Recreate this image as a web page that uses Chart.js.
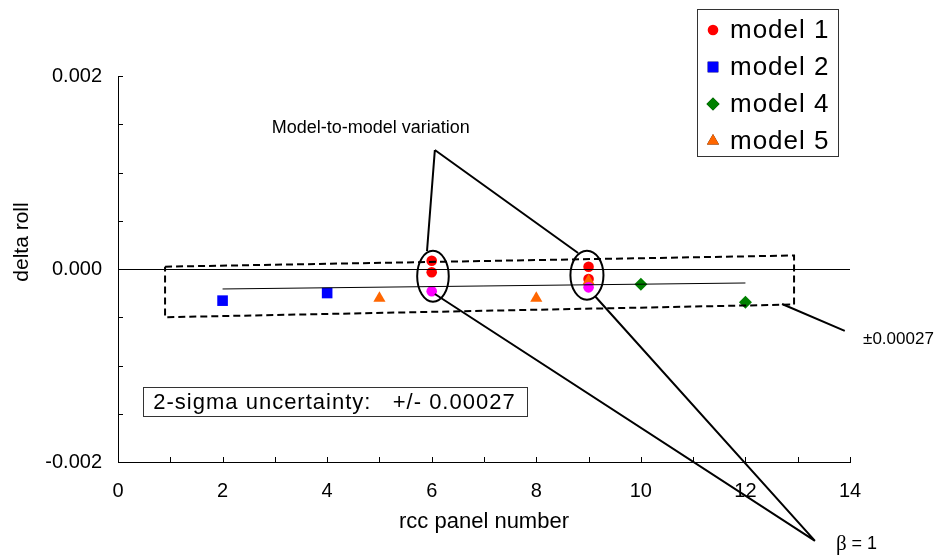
<!DOCTYPE html>
<html>
<head>
<meta charset="utf-8">
<script src="https://cdn.jsdelivr.net/npm/chart.js@4.4.1/dist/chart.umd.min.js"></script>
<style>
  body { margin: 0; background: #fff; }
  canvas { display: block; }
</style>
</head>
<body>
<canvas id="rollChart" width="936" height="556"></canvas>
<script>
// values
const model1X = [6, 6, 9, 9];
const model1Y = [0.000086, -0.000034, 0.000024, -0.000104];
const model2X = [2, 4];
const model2Y = [-0.000328, -0.000249];
const model3X = [6, 9];
const model3Y = [-0.000231, -0.00019];
const model4X = [10, 12];
const model4Y = [-0.000159, -0.000345];
const model5X = [5, 8, 9];
const model5Y = [-0.000304, -0.000304, -0.000124];
const trendX = [2, 12];
const trendY = [-0.000207, -0.000145];
const bandX = [0.9, 12.93, 12.93, 0.9, 0.9];
const bandY = [0.000024, 0.00014, -0.000368, -0.0005, 0.000024];
const yLabelTicks = [-0.002, 0, 0.002];
const xLabelTicks = [0, 2, 4, 6, 8, 10, 12, 14];

const FONT = '"Liberation Sans", Arial, sans-serif';

function pts(xs, ys) {
  return xs.map((x, i) => ({x: x, y: ys[i]}));
}

// callouts, in data units
const callouts = [
  [[6.06, 0.001233], [5.91, 0.000187]],
  [[6.06, 0.001233], [8.80, 0.000166]],
  [[6.06, -0.000259], [13.33, -0.002818]],
  [[9.12, -0.00028], [13.33, -0.002818]],
  [[12.70, -0.000363], [13.90, -0.000642]]
];
const ellipses = [
  {x: 6.024, y: -0.0000746, rx: 0.302, ry: 0.000264},
  {x: 8.969, y: -0.0000643, rx: 0.316, ry: 0.000254}
];

const extras = {
  id: 'extras',
  afterDatasetsDraw(chart) {
    const ctx = chart.ctx;
    const py = v => chart.scales.y.getPixelForValue(v);
    const area = chart.chartArea;
    ctx.save();
    // zero line
    ctx.strokeStyle = '#000';
    ctx.lineWidth = 1;
    ctx.beginPath();
    ctx.moveTo(area.left, Math.round(py(0)) + 0.5);
    ctx.lineTo(area.right, Math.round(py(0)) + 0.5);
    ctx.stroke();
    ctx.restore();
  },
  afterDraw(chart) {
    const ctx = chart.ctx;
    const xs = chart.scales.x, ys = chart.scales.y;
    const px = v => xs.getPixelForValue(v);
    const py = v => ys.getPixelForValue(v);
    const area = chart.chartArea;
    ctx.save();

    // inner tick marks
    ctx.strokeStyle = '#000';
    ctx.lineWidth = 1;
    ctx.beginPath();
    xs.ticks.forEach(t => {
      const x = Math.round(px(t.value)) + 0.5;
      ctx.moveTo(x, area.bottom);
      ctx.lineTo(x, area.bottom - 5);
    });
    ys.ticks.forEach(t => {
      const y = Math.round(py(t.value)) + 0.5;
      ctx.moveTo(area.left, y);
      ctx.lineTo(area.left + 5, y);
    });
    ctx.stroke();

    // callout lines and ellipses
    ctx.lineWidth = 2;
    ctx.beginPath();
    callouts.forEach(c => {
      ctx.moveTo(px(c[0][0]), py(c[0][1]));
      ctx.lineTo(px(c[1][0]), py(c[1][1]));
    });
    ctx.stroke();
    ellipses.forEach(e => {
      const cx = px(e.x), cy = py(e.y);
      ctx.beginPath();
      ctx.ellipse(cx, cy, Math.abs(px(e.x + e.rx) - cx), Math.abs(py(e.y + e.ry) - cy), 0, 0, Math.PI * 2);
      ctx.stroke();
    });

    // text notes
    ctx.fillStyle = '#000';
    ctx.textBaseline = 'middle';
    ctx.textAlign = 'left';
    ctx.font = '18px ' + FONT;
    ctx.fillText('Model-to-model variation', px(2.94), py(0.001461));
    ctx.font = '17px ' + FONT;
    ctx.fillText('\u00b10.00027', px(14.25), py(-0.00073));
    ctx.font = '21px "Liberation Serif", "DejaVu Serif", serif';
    ctx.fillText('\u03b2', px(13.73), py(-0.00285));
    const bw = ctx.measureText('\u03b2').width;
    ctx.font = '18px ' + FONT;
    ctx.fillText(' = 1', px(13.73) + bw, py(-0.00285));

    // uncertainty box
    const bx1 = px(0.484), bx2 = px(7.83), by1 = py(-0.001226), by2 = py(-0.00153);
    ctx.lineWidth = 1;
    ctx.strokeStyle = '#333';
    ctx.strokeRect(Math.round(bx1) + 0.5, Math.round(by1) + 0.5, Math.round(bx2 - bx1), Math.round(by2 - by1));
    ctx.font = '22px ' + FONT;
    ctx.letterSpacing = '1px';
    ctx.fillText('2-sigma uncertainty:   +/- 0.00027', bx1 + 10, (by1 + by2) / 2 + 1);

    // y title
    ctx.save();
    ctx.letterSpacing = '0px';
    ctx.translate(22, 242);
    ctx.rotate(-Math.PI / 2);
    ctx.textAlign = 'center';
    ctx.font = '21px ' + FONT;
    ctx.fillText('delta roll', 0, 0);
    ctx.restore();

    // legend
    const items = chart.data.datasets.filter(d => d.inLegend);
    ctx.strokeStyle = '#333';
    ctx.lineWidth = 1;
    ctx.fillStyle = '#fff';
    ctx.fillRect(697.5, 9.5, 141, 147);
    ctx.strokeRect(697.5, 9.5, 141, 147);
    ctx.font = '26px ' + FONT;
    ctx.letterSpacing = '1px';
    items.forEach((d, i) => {
      const y = 30 + i * 37;
      Chart.helpers.drawPoint(ctx, {
        pointStyle: d.pointStyle, radius: d.pointRadius, rotation: 0, borderWidth: 0
      }, 713, y);
      ctx.fillStyle = d.backgroundColor;
      ctx.fill();
      ctx.fillStyle = '#000';
      ctx.fillText(d.label, 730, y + 1);
    });
    ctx.letterSpacing = '0px';
    ctx.restore();
  }
};

const config = {
  type: 'scatter',
  data: {
    datasets: [
      {label: 'model 1', data: pts(model1X, model1Y), pointStyle: 'circle', pointRadius: 5.3,
       backgroundColor: '#ff0000', borderWidth: 0, order: 6, inLegend: true},
      {label: 'model 2', data: pts(model2X, model2Y), pointStyle: 'rect', pointRadius: 7.5,
       backgroundColor: '#0000ff', borderWidth: 0, order: 5, inLegend: true},
      {label: 'model 3', data: pts(model3X, model3Y), pointStyle: 'circle', pointRadius: 5.3,
       backgroundColor: '#ff00ff', borderWidth: 0, order: 2},
      {label: 'model 4', data: pts(model4X, model4Y), pointStyle: 'rectRot', pointRadius: 6.5,
       backgroundColor: '#008000', borderWidth: 0, order: 4, inLegend: true},
      {label: 'model 5', data: pts(model5X, model5Y), pointStyle: 'triangle', pointRadius: 7,
       backgroundColor: '#ff6600', borderWidth: 0, order: 3, inLegend: true},
      {label: 'trend', data: pts(trendX, trendY), showLine: true, pointRadius: 0,
       borderColor: '#000', borderWidth: 1, order: 1},
      {label: 'band', data: pts(bandX, bandY), showLine: true, pointRadius: 0,
       borderColor: '#000', borderWidth: 2, borderDash: [7, 4], order: 0}
    ]
  },
  options: {
    responsive: false,
    animation: false,
    layout: {padding: {left: 0, right: 86, top: 76, bottom: 0}},
    plugins: {legend: {display: false}, tooltip: {enabled: false}},
    scales: {
      x: {
        type: 'linear', min: 0, max: 14,
        grid: {display: false, drawTicks: false},
        border: {display: true, color: '#000', width: 1},
        ticks: {
          stepSize: 1, autoSkip: false, maxRotation: 0, padding: 17,
          color: '#000', font: {family: FONT, size: 20},
          callback: v => xLabelTicks.includes(v) ? String(v) : ''
        },
        title: {display: true, text: 'rcc panel number', color: '#000',
          font: {family: FONT, size: 22}, padding: {top: 0, bottom: 21}},
        afterFit: s => { s.height = 94; }
      },
      y: {
        type: 'linear', min: -0.002, max: 0.002,
        grid: {display: false, drawTicks: false},
        border: {display: true, color: '#000', width: 1},
        ticks: {
          stepSize: 0.0005, autoSkip: false, padding: 16,
          color: '#000', font: {family: FONT, size: 20},
          callback: v => {
            const hit = yLabelTicks.find(t => Math.abs(t - v) < 1e-9);
            return hit === undefined ? '' : hit.toFixed(3);
          }
        },
        afterFit: s => { s.width = 118; }
      }
    }
  },
  plugins: [extras]
};

const rollChart = new Chart(document.getElementById('rollChart').getContext('2d'), config);
</script>
</body>
</html>
